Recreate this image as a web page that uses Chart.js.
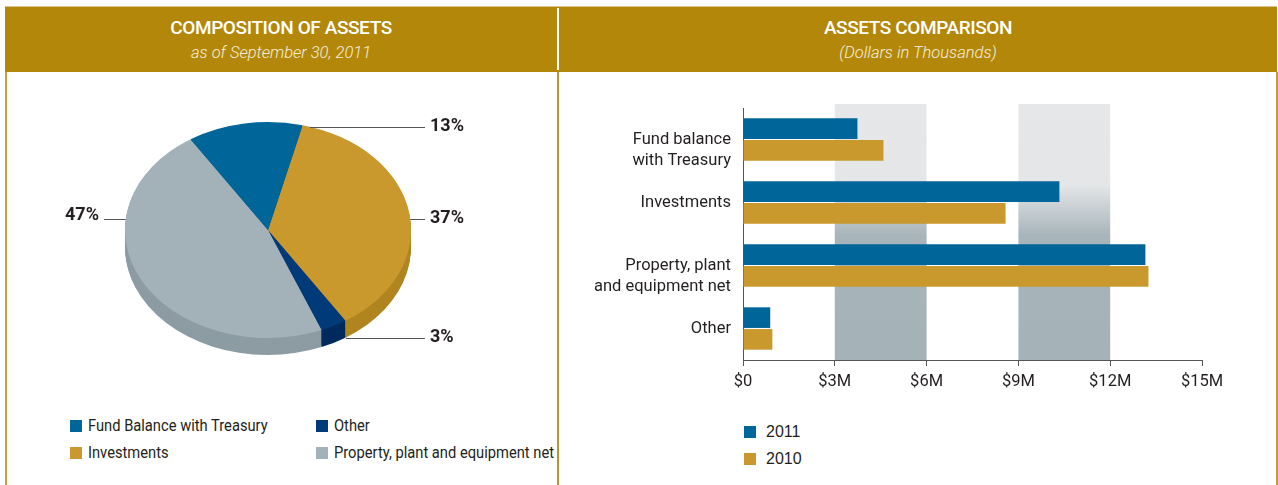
<!DOCTYPE html>
<html>
<head>
<meta charset="utf-8">
<script src="https://cdn.jsdelivr.net/npm/chart.js@4.4.9/dist/chart.umd.min.js"></script>
<style>
  html, body { margin: 0; padding: 0; background: #fff; }
  body {
    width: 1278px; height: 485px; position: relative; overflow: hidden;
    font-family: Roboto, "Liberation Sans", sans-serif;
    color: #231f20;
  }
  .band { position: absolute; left: 5px; top: 6px; width: 1272px; height: 66px;
          background: #b3870a; border-top: 1px solid #d8c48e; box-sizing: border-box; }
  .head { position: absolute; top: 6px; height: 66px; text-align: center; color: #fff; }
  .head h1 { margin: 0; padding-top: 11px; font-size: 19px; line-height: 22px; font-weight: 500; letter-spacing: -0.4px; }
  .head p { margin: 0; padding-top: 4px; font-size: 16.5px; line-height: 20px; font-style: italic; font-weight: 300; color: #f6efdc; }
  .line { position: absolute; width: 2px; }
  canvas { position: absolute; }
  .legend { position: absolute; font-size: 17px; line-height: 27px; }
  .legend .item { position: absolute; white-space: nowrap; }
  .legend .sw { display: inline-block; width: 12px; height: 12px; vertical-align: -1px; margin-right: 6px; }
  .legend .tx { display: inline-block; transform: scaleX(0.865); transform-origin: left center; }
  #barLegend { font-family: "Liberation Sans", sans-serif; font-size: 16px; }
  #barLegend .sw { margin-right: 10px; }
  #barLegend .tx { transform: none; }
</style>
</head>
<body>
<div class="band"></div>
<div class="head" style="left:5px;width:552px;">
  <h1>COMPOSITION OF ASSETS</h1>
  <p>as of September 30, 2011</p>
</div>
<div class="head" style="left:559px;width:718px;">
  <h1>ASSETS COMPARISON</h1>
  <p>(Dollars in Thousands)</p>
</div>
<div class="line" style="left:557px;top:8px;height:62px;background:#fff;"></div>
<div class="line" style="left:5px;top:72px;height:413px;background:#c89e3c;"></div>
<div class="line" style="left:557px;top:72px;height:413px;background:#c0912e;"></div>
<div class="line" style="left:1276px;top:72px;height:413px;background:#c89e3c;"></div>

<canvas id="pieChart" width="552" height="340" style="left:5px;top:72px;"></canvas>
<canvas id="barChart" width="690" height="300" style="left:560px;top:90px;"></canvas>
<div id="pieLegend" class="legend"></div>
<div id="barLegend" class="legend"></div>

<script>
// composition of assets, % of total
const pieLabels = ['Investments', 'Other', 'Property, plant and equipment net', 'Fund Balance with Treasury'];
const pieValues = [37, 3, 47, 13];
const pieColors = ['#c9992e', '#003a78', '#a3b2b8', '#006699'];
const pieSideColors = ['#b0851f', '#002b5e', '#8d9ca3', '#00557f'];
const pieLegendOrder = [3, 0, 1, 2];

// assets comparison, $ millions
const barCategories = [['Fund balance', 'with Treasury'], 'Investments', ['Property, plant', 'and equipment net'], 'Other'];
const barYears = ['2011', '2010'];
const values2011 = [3.74, 10.34, 13.15, 0.89];
const values2010 = [4.59, 8.58, 13.25, 0.96];
const barColors = ['#006699', '#c9992e'];
const xTickLabels = ['$0', '$3M', '$6M', '$9M', '$12M', '$15M'];
const shadedRanges = [[3, 6], [9, 12]];

const NARROW = 'Roboto, "Liberation Sans", sans-serif';
const TEXT = '#231f20';
const TILT = 0.755;   // vertical squash of the pie
const DEPTH = 17;     // pie thickness in px

// where each pie label hooks onto the pie (canvas degrees) and which side it sits
const pieAnchors = [
    { angle: -6, drop: 0, side: 'right' },
    { angle: 57, drop: DEPTH, side: 'right' },
    { angle: 186, drop: 0, side: 'left' },
    { angle: -73, drop: 0, side: 'right' }
];

// squash the pie into an ellipse, draw the side wall first, labels after
const tiltPlugin = {
    id: 'tilt',
    beforeDatasetsDraw(chart) {
        const ctx = chart.ctx;
        const arcs = chart.getDatasetMeta(0).data;
        const cx = arcs[0].x, cy = arcs[0].y;
        ctx.save();
        ctx.translate(cx, cy);
        ctx.scale(1, TILT);
        ctx.translate(-cx, -cy);
        for (let d = DEPTH; d > 0; d--) {
            arcs.forEach((arc, i) => {
                const y = arc.y + d / TILT;
                ctx.beginPath();
                ctx.moveTo(arc.x, y);
                ctx.arc(arc.x, y, arc.outerRadius, arc.startAngle, arc.endAngle);
                ctx.closePath();
                ctx.fillStyle = pieSideColors[i];
                ctx.fill();
            });
        }
    },
    afterDatasetsDraw(chart) {
        const ctx = chart.ctx;
        ctx.restore();
        const arcs = chart.getDatasetMeta(0).data;
        ctx.save();
        ctx.strokeStyle = '#555';
        ctx.lineWidth = 1;
        ctx.fillStyle = TEXT;
        ctx.font = 'bold 18px ' + NARROW;
        ctx.textBaseline = 'middle';
        arcs.forEach((arc, i) => {
            const a = pieAnchors[i];
            const r = arc.outerRadius;
            const rad = a.angle * Math.PI / 180;
            const px = arc.x + r * Math.cos(rad);
            const py = Math.round(arc.y + r * TILT * Math.sin(rad) + a.drop) + 0.5;
            const endX = a.side === 'right' ? arc.x + r + 14 : arc.x - r - 21;
            ctx.beginPath();
            ctx.moveTo(px, py);
            ctx.lineTo(endX, py);
            ctx.stroke();
            const txt = pieValues[i] + '%';
            if (a.side === 'right') {
                ctx.textAlign = 'left';
                ctx.fillText(txt, endX + 5, py - 1);
            } else {
                ctx.textAlign = 'right';
                ctx.fillText(txt, endX - 5, py - 4);
            }
        });
        ctx.restore();
    }
};

new Chart(document.getElementById('pieChart'), {
    type: 'pie',
    data: {
        labels: pieLabels,
        datasets: [{ data: pieValues, backgroundColor: pieColors, borderWidth: 0 }]
    },
    options: {
        responsive: false,
        animation: false,
        events: [],
        rotation: 14,
        clip: false,
        layout: { padding: { left: 120, right: 146, top: 15, bottom: 39 } },
        plugins: { legend: { display: false }, tooltip: { enabled: false } }
    },
    plugins: [tiltPlugin]
});

// grey columns behind the bars, fading from light at the top
const bandPlugin = {
    id: 'bands',
    beforeDatasetsDraw(chart) {
        const { ctx, chartArea, scales } = chart;
        const top = chartArea.top - 4, bottom = chartArea.bottom;
        const h = bottom - top;
        const grad = ctx.createLinearGradient(0, top, 0, bottom);
        grad.addColorStop(0, '#e6e7e8');
        grad.addColorStop((185 - 104) / 256, '#e4e6e7');
        grad.addColorStop((236 - 104) / 256, '#a7b4ba');
        grad.addColorStop(1, '#a5b2b8');
        ctx.save();
        ctx.fillStyle = grad;
        shadedRanges.forEach(([a, b]) => {
            const x0 = scales.x.getPixelForValue(a);
            const x1 = scales.x.getPixelForValue(b);
            ctx.fillRect(x0, top, x1 - x0, h);
        });
        ctx.restore();
    }
};

new Chart(document.getElementById('barChart'), {
    type: 'bar',
    data: {
        labels: barCategories,
        datasets: [
            { label: barYears[0], data: values2011, backgroundColor: barColors[0], categoryPercentage: 0.69, barPercentage: 0.95 },
            { label: barYears[1], data: values2010, backgroundColor: barColors[1], categoryPercentage: 0.69, barPercentage: 0.95 }
        ]
    },
    options: {
        indexAxis: 'y',
        responsive: false,
        animation: false,
        events: [],
        layout: { padding: { top: 18, right: 48, left: 0, bottom: 0 } },
        plugins: { legend: { display: false }, tooltip: { enabled: false } },
        scales: {
            x: {
                min: 0, max: 15,
                ticks: { stepSize: 3, callback: (v, i) => xTickLabels[i], font: { family: NARROW, size: 16.5 }, color: TEXT, padding: 6 },
                grid: { drawOnChartArea: false, tickLength: 6, color: '#555' },
                border: { color: '#555' },
                afterFit: s => { s.height = 30; }
            },
            y: {
                ticks: {
                    // two-line labels sit with their first line on the bar group centre
                    callback: (v, i) => Array.isArray(barCategories[i]) ? [''].concat(barCategories[i]) : barCategories[i],
                    autoSkip: false,
                    font: { family: NARROW, size: 16.5, lineHeight: 1.3 }, color: TEXT, padding: 12
                },
                grid: { display: false, drawTicks: false },
                border: { display: true, color: '#555' },
                afterFit: s => { s.width = 183; s.paddingTop = 0; s.paddingBottom = 0; }
            }
        }
    },
    plugins: [bandPlugin]
});

// html legends built from the same arrays
const pieLegend = document.getElementById('pieLegend');
pieLegendOrder.forEach((idx, k) => {
    const el = document.createElement('div');
    el.className = 'item';
    el.style.left = (k < 2 ? 70 : 316) + 'px';
    el.style.top = (412 + (k % 2) * 27) + 'px';
    el.innerHTML = '<span class="sw" style="background:' + pieColors[idx] + '"></span><span class="tx">' + pieLabels[idx] + '</span>';
    pieLegend.appendChild(el);
});
const barLegend = document.getElementById('barLegend');
barYears.forEach((yr, k) => {
    const el = document.createElement('div');
    el.className = 'item';
    el.style.left = '744px';
    el.style.top = (418 + k * 27) + 'px';
    el.innerHTML = '<span class="sw" style="background:' + barColors[k] + '"></span><span class="tx">' + yr + '</span>';
    barLegend.appendChild(el);
});
</script>
</body>
</html>
